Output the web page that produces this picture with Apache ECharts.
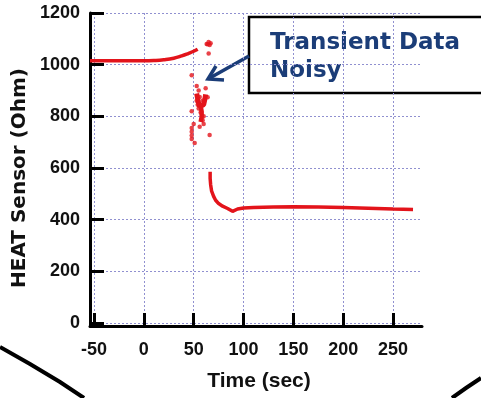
<!DOCTYPE html>
<html><head><meta charset="utf-8">
<script src="https://cdn.jsdelivr.net/npm/echarts@6/dist/echarts.min.js"></script>
<style>html,body{margin:0;padding:0;background:#fff}#c{width:481px;height:398px}</style>
</head><body><div id="c"></div>
<script>
const xTicks = [-50, 0, 50, 100, 150, 200, 250];
const yTicks = [0, 200, 400, 600, 800, 1000, 1200];
const baseline = [[-54,1015],[-40,1015],[-20,1015],[0,1015],[10,1016],[20,1019],[30,1025],[38,1034],[45,1044],[50,1052],[54,1060]];
const noiseStroke1 = [[53,888],[54,868],[55,850],[56,838],[58,832],[60,845],[61,862],[62,885]];
const noiseStroke2 = [[57,840],[58,818],[58,798],[57,778]];
const noisePoints = [[63,1080],[65,1088],[67,1083],[66,1076],[64,1079],[65,1043],[48,959],[53,917],[62,909],[64,874],[48,820],[50,770],[48,755],[48,740],[48,726],[48,712],[51,697],[66,728],[60,800],[59,785],[55,900],[56,875],[54,845],[55,830],[57,815],[59,860],[53,860],[60,770],[56,760]];
const recovery = [[66.5,585],[66.5,560],[67,535],[68,510],[70,490],[72,475],[75,462],[79,452],[84,443],[89,432],[91,437],[94,441],[100,445],[110,447],[130,449],[150,450],[175,449],[200,447],[225,444],[250,441],[270,439]];

const RED = '#e3141b';
const chart = echarts.init(document.getElementById('c'), null, {renderer:'canvas'});
const tickFont = {fontFamily:'Liberation Sans, Arial, sans-serif', fontWeight:'bold', fontSize:18, color:'#111'};
const gridLine = {show:true, lineStyle:{color:'#9090d0', type:[2,2], width:1}};
chart.setOption({
  animation:false,
  backgroundColor:'#fff',
  grid:{left:90, right:59, top:13, bottom:72},
  xAxis:{
    type:'value', min:-54, max:279,
    axisLine:{show:true, onZero:false, lineStyle:{color:'#000', width:3}},
    axisTick:{show:true, inside:true, length:13, lineStyle:{color:'#000', width:3}, customValues:xTicks},
    axisLabel:Object.assign({margin:15, customValues:xTicks, formatter:v=>String(v)}, tickFont),
    splitLine:gridLine
  },
  yAxis:{
    type:'value', min:-12, max:1200,
    axisLine:{show:true, onZero:false, lineStyle:{color:'#000', width:3}},
    axisTick:{show:true, inside:true, length:14, lineStyle:{color:'#000', width:3}, customValues:yTicks},
    axisLabel:Object.assign({margin:10, customValues:yTicks, formatter:v=>String(v)}, tickFont),
    splitLine:gridLine
  },
  series:[
    {type:'line', data:baseline, showSymbol:false, smooth:true, lineStyle:{color:RED, width:3.5}, z:3},
    {type:'line', data:noiseStroke1, showSymbol:false, lineStyle:{color:RED, width:5}, z:3},
    {type:'line', data:noiseStroke2, showSymbol:false, lineStyle:{color:RED, width:4.5}, z:3},
    {type:'scatter', data:noisePoints, symbolSize:4.5, itemStyle:{color:RED}, z:3},
    {type:'line', data:recovery, showSymbol:false, lineStyle:{color:RED, width:3.5}, z:3}
  ],
  graphic:[
    {type:'text', x:20, y:178, rotation:Math.PI/2, style:{text:'HEAT Sensor (Ohm)', font:'bold 20px "DejaVu Sans", sans-serif', fill:'#111', align:'center', verticalAlign:'middle'}},
    {type:'text', x:259, y:381, style:{text:'Time (sec)', font:'bold 21px "Liberation Sans", Arial, sans-serif', fill:'#111', align:'center', verticalAlign:'middle'}},
    {type:'rect', shape:{x:249, y:17, width:250, height:76}, style:{fill:'none', stroke:'#000', lineWidth:2.5}},
    {type:'text', x:270, y:43, style:{text:'Transient Data', font:'bold 23px "DejaVu Sans", sans-serif', fill:'#1b3d78', align:'left', verticalAlign:'middle'}},
    {type:'text', x:270, y:71, style:{text:'Noisy', font:'bold 23px "DejaVu Sans", sans-serif', fill:'#1b3d78', align:'left', verticalAlign:'middle'}},
    {type:'polyline', shape:{points:[[249,56],[208,79]]}, style:{stroke:'#1b3d78', lineWidth:3.5}},
    {type:'polyline', shape:{points:[[216,66],[208,79],[224,80]]}, style:{stroke:'#1b3d78', lineWidth:3.5, fill:'none'}},
    {type:'polyline', shape:{points:[[0,347],[30,364],[60,382],[84,398]]}, style:{stroke:'#000', lineWidth:4, fill:'none'}},
    {type:'polyline', shape:{points:[[481,378],[466,388],[452,398]]}, style:{stroke:'#000', lineWidth:4, fill:'none'}}
  ]
});
</script></body></html>
